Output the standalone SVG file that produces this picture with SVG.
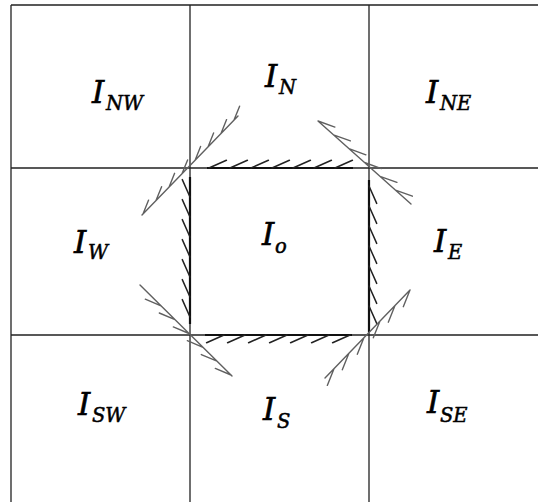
<svg xmlns="http://www.w3.org/2000/svg" width="538" height="502" viewBox="0 0 538 502">
<style>
.grid{stroke:#222;stroke-width:1.3;fill:none}
.thick{stroke:#111;stroke-width:2.2;fill:none}
.etick{stroke:#222;stroke-width:1.5;fill:none;stroke-linecap:round}
.diag{stroke:#606060;stroke-width:1.4;fill:none;stroke-linecap:round}
.I{font-family:"DejaVu Serif","Liberation Serif",serif;font-style:italic;font-size:31px;fill:#000;stroke:#000;stroke-width:0.6}
.sub{font-family:"DejaVu Serif","Liberation Serif",serif;font-style:italic;font-size:19.5px;fill:#000;stroke:#000;stroke-width:0.5}
</style>
<rect width="538" height="502" fill="#fff"/>
<g id="grid">
<path class="grid" d="M11 5H538M11 168H538M11 335H538M11 5V502M190 5V502M369 5V502"/>
</g>
<g id="cell-NW"><text class="I" x="92" y="103">I</text><text class="sub" x="106" y="110">NW</text></g>
<g id="cell-N"><text class="I" x="265" y="87">I</text><text class="sub" x="279" y="94">N</text></g>
<g id="cell-NE"><text class="I" x="426" y="103">I</text><text class="sub" x="440" y="110">NE</text></g>
<g id="cell-W"><text class="I" x="74" y="253">I</text><text class="sub" x="88" y="259">W</text></g>
<g id="cell-O"><text class="I" x="262" y="245">I</text><text class="sub" x="275" y="253">o</text></g>
<g id="cell-E"><text class="I" x="434" y="252">I</text><text class="sub" x="448" y="259">E</text></g>
<g id="cell-SW"><text class="I" x="78" y="415">I</text><text class="sub" x="92" y="422">SW</text></g>
<g id="cell-S"><text class="I" x="263" y="420">I</text><text class="sub" x="277" y="428">S</text></g>
<g id="cell-SE"><text class="I" x="427" y="413">I</text><text class="sub" x="440" y="422">SE</text></g>
<g id="connectors">
<path class="thick" d="M207 168H353M369 180V332M352 335H205M190 324V177"/>
<path class="etick" d="M209 168l17.4 -7.7M230 168l17.4 -7.7M251 168l17.4 -7.7M272 168l17.4 -7.7M293 168l17.4 -7.7M314 168l17.4 -7.7M335 168l17.4 -7.7"/>
<path class="etick" d="M369 186l7.7 17.4M369 206l7.7 17.4M369 226l7.7 17.4M369 246l7.7 17.4M369 266l7.7 17.4M369 286l7.7 17.4M369 306l7.7 17.4"/>
<path class="etick" d="M350 335l-17.4 7.7M329 335l-17.4 7.7M308 335l-17.4 7.7M287 335l-17.4 7.7M266 335l-17.4 7.7M245 335l-17.4 7.7M224 335l-17.4 7.7"/>
<path class="etick" d="M190 317l-7.7 -17.4M190 297l-7.7 -17.4M190 277l-7.7 -17.4M190 257l-7.7 -17.4M190 237l-7.7 -17.4M190 217l-7.7 -17.4M190 197l-7.7 -17.4"/>
<path class="diag" d="M142 215L238 116M143 214l5.6 -13.9M156 200.6l5.6 -13.9M169 187.2l5.6 -13.9M182 173.8l5.6 -13.9M195 160.4l5.6 -13.9M208 146.9l5.6 -13.9M221 133.5l5.6 -13.9M234 120.1l5.6 -13.9"/>
<path class="diag" d="M318 121L411 204M318 121l16.9 6.1M333.5 134.8l16.9 6.1M349 148.7l16.9 6.1M364.5 162.5l16.9 6.1M380 176.3l16.9 6.1M395.5 190.1l16.9 6.1"/>
<path class="diag" d="M410 290L325 378M410 290l-6.7 16.7M395 305.5l-6.7 16.7M380 321.1l-6.7 16.7M364 337.6l-6.7 16.7M349 353.1l-6.7 16.7M334 368.7l-6.7 16.7"/>
<path class="diag" d="M232 376L140 285M231 375l-15.7 -6.6M217 361.2l-15.7 -6.6M203 347.3l-15.7 -6.6M189 333.5l-15.7 -6.6M175 319.6l-15.7 -6.6M161 305.8l-15.7 -6.6"/>
</g>
</svg>
